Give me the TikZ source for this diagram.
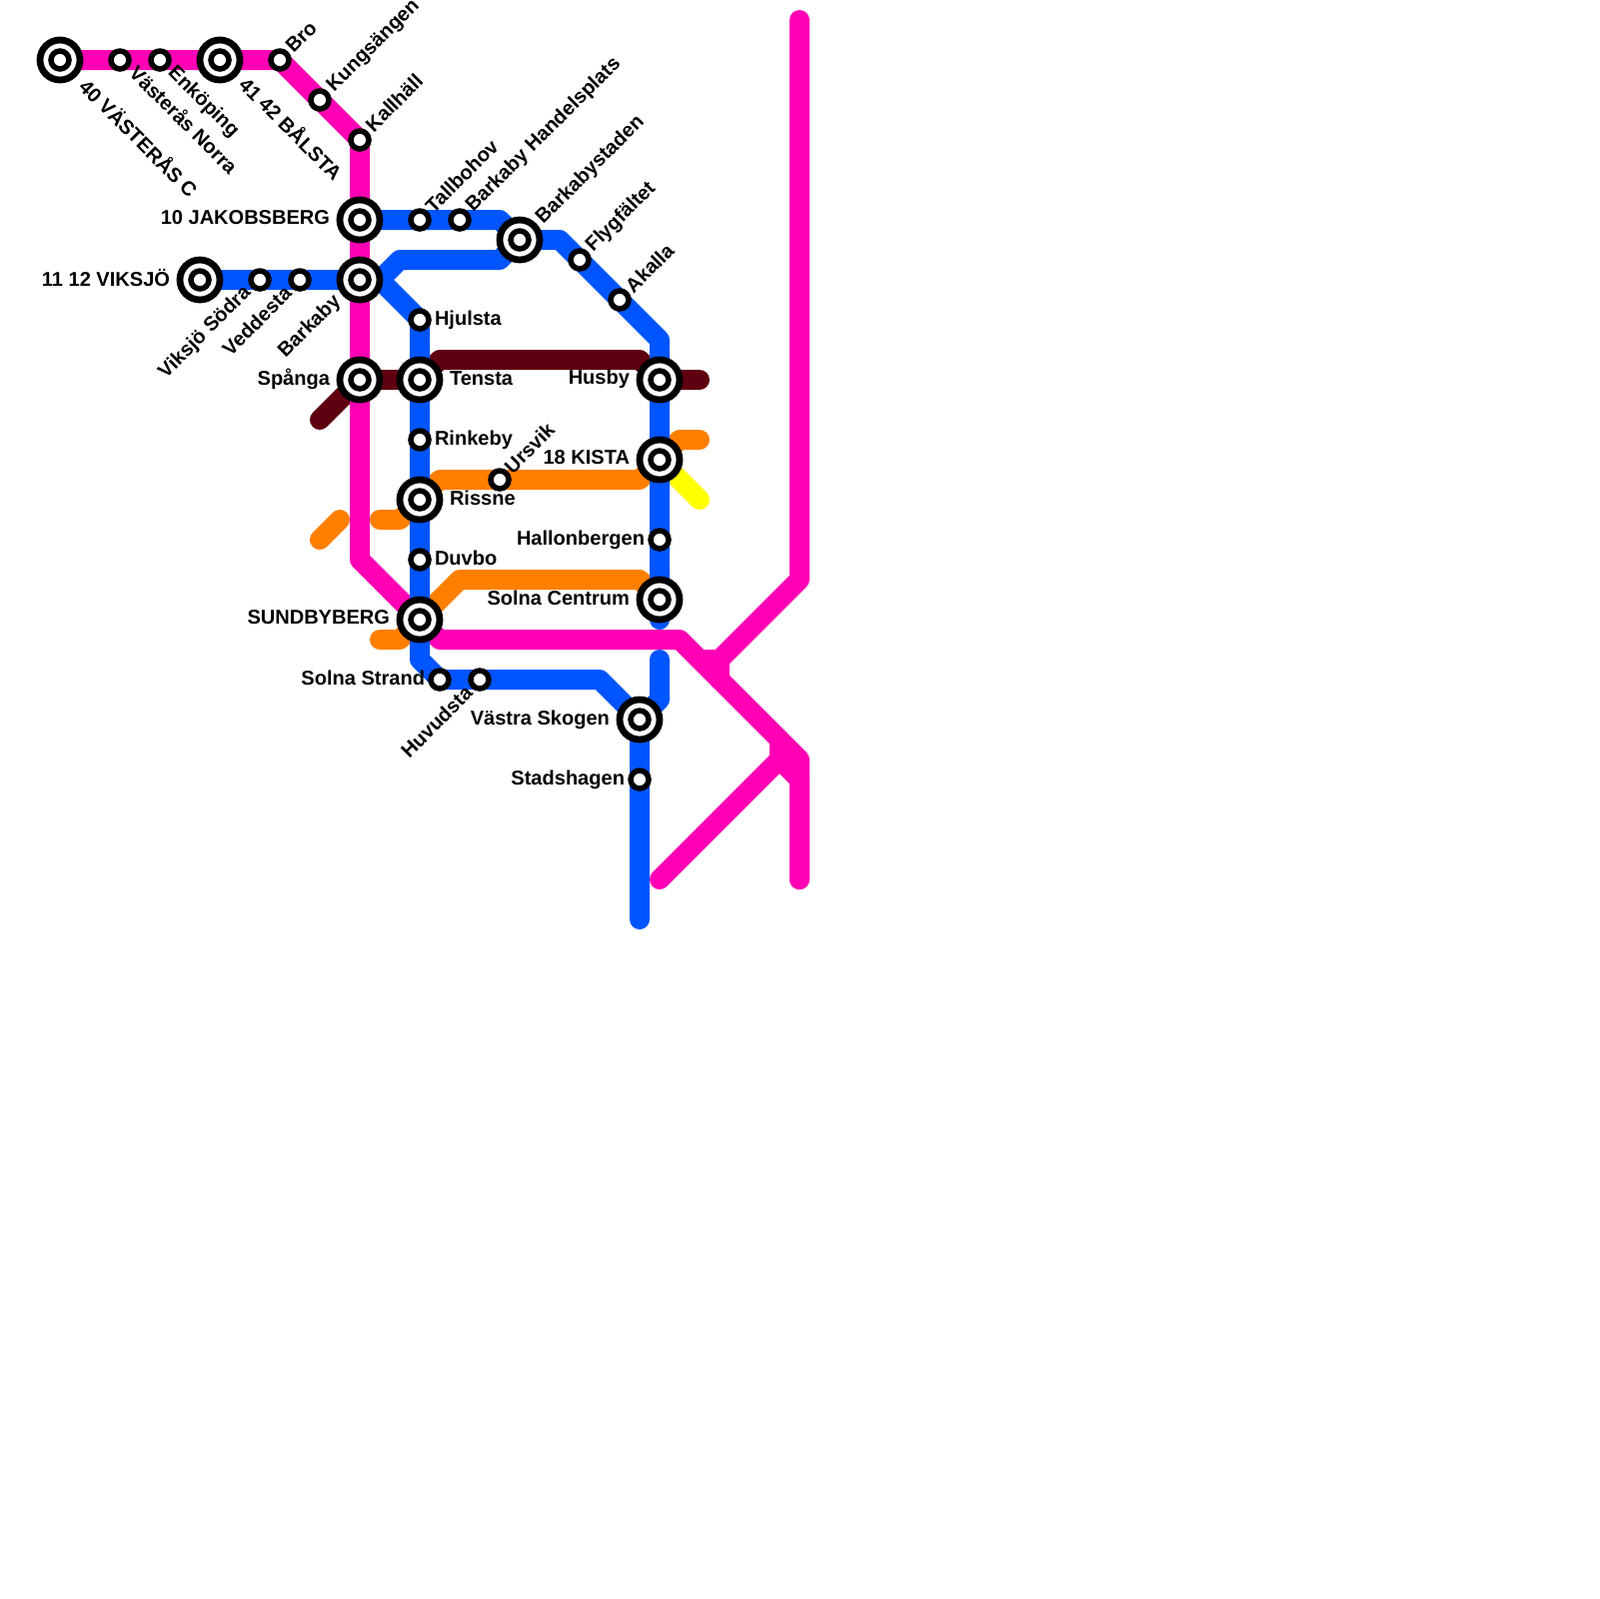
\documentclass[tikz,border=0pt]{standalone}
\usepackage{fontspec}
\setmainfont{Liberation Sans}
\usetikzlibrary{backgrounds}
\definecolor{pinkline}{HTML}{FF00B4}
\definecolor{blueline}{HTML}{0055FF}
\definecolor{darkline}{HTML}{5E0010}
\definecolor{orangeline}{HTML}{FF7F00}
\definecolor{yellowline}{HTML}{FFFF00}

\begin{document}
\begin{tikzpicture}[x=.1mm,y=-.1mm, every node/.style={font=\fontsize{5.7pt}{6pt}\selectfont\bfseries,inner sep=0pt,outer sep=0pt}, halt/.style={circle,draw=black,fill=white,line width=.55mm,minimum size=1.8mm}, hub/.style={circle,draw=black,fill=white,line width=.68mm,minimum size=4mm,path picture={\draw[line width=.55mm] (path picture bounding box.center) circle (.9mm);}}, up/.style={rotate=45,anchor=west}, down/.style={rotate=-45,anchor=west}, upback/.style={rotate=45,anchor=east}, track/.style={line width=2mm,line cap=round,line join=round}]
\useasboundingbox (0,0) rectangle (1600,1600);
% stations
\node[hub] (vasteras) at (60,60) {}; \node[halt] (vnorra) at (120,60) {}; \node[halt] (enkoping) at (160,60) {}; \node[hub] (balsta) at (220,60) {};
\node[halt] (bro) at (280,60) {}; \node[halt] (kungsangen) at (320,100) {}; \node[halt] (kallhall) at (360,140) {};
\node[hub] (jakobsberg) at (360,220) {}; \node[hub] (barkaby) at (360,280) {}; \node[hub] (spanga) at (360,380) {};
\node[hub] (viksjo) at (200,280) {}; \node[halt] (vsodra) at (260,280) {}; \node[halt] (veddesta) at (300,280) {};
\node[halt] (tallbohov) at (420,220) {}; \node[halt] (handel) at (460,220) {}; \node[hub] (bstaden) at (520,240) {};
\node[halt] (flygfaltet) at (580,260) {}; \node[halt] (akalla) at (620,300) {};
\node[hub] (husby) at (660,380) {}; \node[hub] (kista) at (660,460) {}; \node[halt] (hallon) at (660,540) {}; \node[hub] (solnac) at (660,600) {};
\node[halt] (hjulsta) at (420,320) {}; \node[hub] (tensta) at (420,380) {}; \node[halt] (rinkeby) at (420,440) {}; \node[hub] (rissne) at (420,500) {};
\node[halt] (duvbo) at (420,560) {}; \node[hub] (sundbyberg) at (420,620) {};
\node[halt] (strand) at (440,680) {}; \node[halt] (huvudsta) at (480,680) {}; \node[hub] (skogen) at (640,720) {}; \node[halt] (stadshagen) at (640,780) {};
\node[halt] (ursvik) at (500,480) {};
% labels
\node[down] (l1) at (84,82) {40 VÄSTERÅS C}; \node[down] (l2) at (134,69) {Västerås Norra}; \node[down] (l3) at (171,70) {Enköping}; \node[down] (l4) at (244,80) {41 42 BÅLSTA};
\node[up] (l5) at (289,49) {Bro}; \node[up] (l6) at (331,89) {Kungsängen}; \node[up] (l7) at (369,128) {Kallhäll};
\node[up] (l8) at (429,209) {Tallbohov}; \node[up] (l9) at (470,209) {Barkaby Handelsplats}; \node[up] (l10) at (540,221) {Barkabystaden};
\node[up] (l11) at (590,249) {Flygfältet}; \node[up] (l12) at (629,289) {Akalla}; \node[up] (l13) at (508,470) {Ursvik};
\node[upback] (l14) at (248,290) {Viksjö Södra}; \node[upback] (l15) at (288,290) {Veddesta}; \node[upback] (l16) at (338,299) {Barkaby}; \node[upback] (l17) at (469,690) {Huvudsta};
\node[anchor=east] (l18) at (330,218) {10 JAKOBSBERG}; \node[anchor=east] (l19) at (170,278) {11 12 VIKSJÖ}; \node[anchor=east] (l20) at (330,379) {Spånga};
\node[anchor=east] (l21) at (630,379) {Husby}; \node[anchor=east] (l22) at (630,458) {18 KISTA}; \node[anchor=east] (l23) at (645,540) {Hallonbergen}; \node[anchor=east] (l24) at (630,598) {Solna Centrum};
\node[anchor=east] (l25) at (390,618) {SUNDBYBERG}; \node[anchor=east] (l26) at (425,678) {Solna Strand}; \node[anchor=east] (l27) at (610,720) {Västra Skogen}; \node[anchor=east] (l28) at (625,780) {Stadshagen};
\node[anchor=west] (l29) at (435,320) {Hjulsta}; \node[anchor=west] (l30) at (450,379) {Tensta}; \node[anchor=west] (l31) at (435,440) {Rinkeby}; \node[anchor=west] (l32) at (450,498) {Rissne}; \node[anchor=west] (l33) at (435,558) {Duvbo};
% free ends and bends
\coordinate (dk1) at (320,420); \coordinate (dk2) at (440,360); \coordinate (dk3) at (640,360); \coordinate (dk4) at (700,380);
\coordinate (or1) at (320,540); \coordinate (or2) at (340,520); \coordinate (or3) at (380,520); \coordinate (or4) at (400,520); \coordinate (or5) at (440,480); \coordinate (or6) at (640,480); \coordinate (or7) at (680,440); \coordinate (or8) at (700,440);
\coordinate (or9) at (380,640); \coordinate (or10) at (400,640); \coordinate (or11) at (460,580); \coordinate (or12) at (640,580);
\coordinate (ye1) at (700,500);
\coordinate (pk1) at (360,560); \coordinate (pk2) at (440,640); \coordinate (pk3) at (680,640); \coordinate (pk4) at (800,760); \coordinate (pk5) at (800,880);
\coordinate (pk6) at (800,20); \coordinate (pk7) at (800,580); \coordinate (pk8) at (720,660); \coordinate (pk9) at (700,660); \coordinate (pk10) at (720,680);
\coordinate (pk11) at (660,880); \coordinate (pk12) at (780,760); \coordinate (pk13) at (780,740); \coordinate (pk14) at (800,780);
\coordinate (bl1) at (380,280); \coordinate (bl2) at (400,260); \coordinate (bl3) at (500,260); \coordinate (bl4) at (500,220); \coordinate (bl5) at (560,240); \coordinate (bl6) at (660,340); \coordinate (bl7) at (660,620);
\coordinate (bl8) at (420,660); \coordinate (bl9) at (600,680); \coordinate (bl10) at (640,920); \coordinate (bl11) at (660,660); \coordinate (bl12) at (660,700);
% lines
\begin{scope}[on background layer]
\draw[track,yellowline] (kista.center)--(ye1);
\draw[track,orangeline] (or1)--(or2); \draw[track,orangeline] (or3)--(or4)--(rissne.center)--(or5)--(or6)--(kista.center)--(or7)--(or8);
\draw[track,orangeline] (or9)--(or10)--(sundbyberg.center)--(or11)--(or12)--(solnac.center);
\draw[track,darkline] (dk1)--(spanga.center)--(tensta.center)--(dk2)--(dk3)--(husby.center)--(dk4);
\draw[track,pinkline] (vasteras.center)--(bro.center)--(kallhall.center)--(spanga.center)--(pk1)--(sundbyberg.center)--(pk2)--(pk3)--(pk4)--(pk5);
\draw[track,pinkline] (pk6)--(pk7)--(pk8)--(pk9); \draw[track,pinkline] (pk8)--(pk10);
\draw[track,pinkline] (pk11)--(pk12)--(pk13); \draw[track,pinkline] (pk12)--(pk14)--(pk5);
\draw[track,blueline] (viksjo.center)--(barkaby.center)--(bl1)--(bl2)--(bl3)--(bstaden.center);
\draw[track,blueline] (jakobsberg.center)--(bl4)--(bstaden.center)--(bl5)--(bl6)--(bl7);
\draw[track,blueline] (bl1)--(hjulsta.center)--(bl8)--(strand.center)--(bl9)--(skogen.center)--(bl10);
\draw[track,blueline] (bl11)--(bl12)--(skogen.center);
\end{scope}
\end{tikzpicture}
\end{document}
